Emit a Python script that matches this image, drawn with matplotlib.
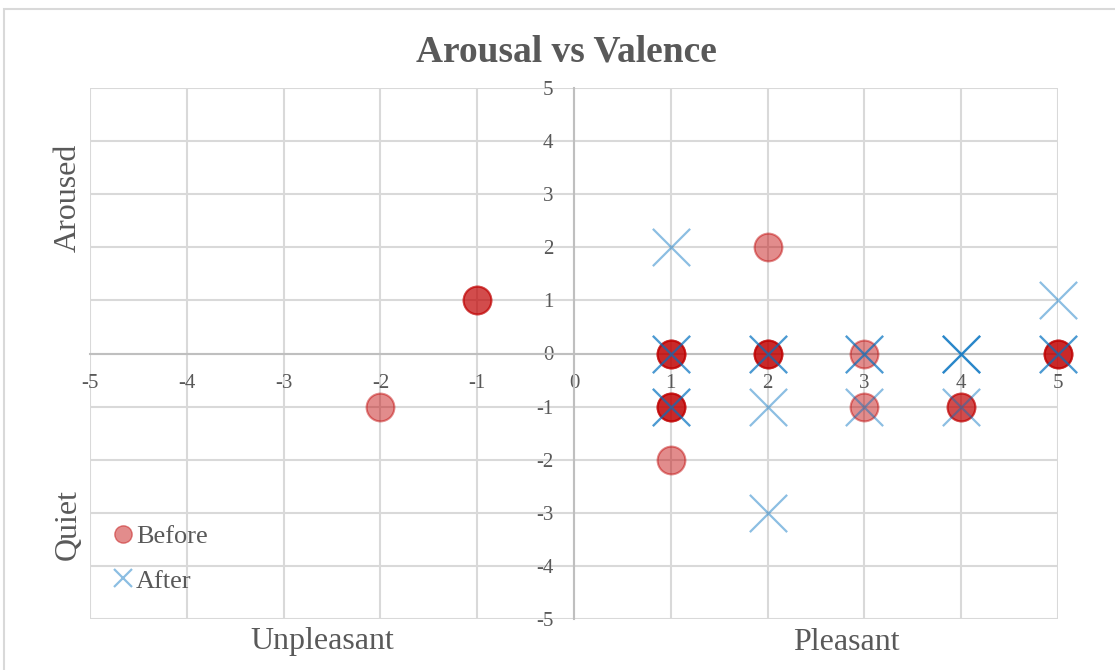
import matplotlib.pyplot as plt
from matplotlib.lines import Line2D
from matplotlib.patches import Rectangle

# valence (x) / arousal (y) ratings, repeated points = several people
before_x = [-2, -1, -1, 1, 1, 1, 1, 1, 1, 1, 2, 2, 2, 2, 3, 3, 4, 4, 5, 5, 5]
before_y = [-1, 1, 1, 0, 0, 0, -1, -1, -1, -2, 2, 0, 0, 0, 0, -1, -1, -1, 0, 0, 0]

after_x = [1, 1, 1, 1, 1, 2, 2, 2, 2, 3, 3, 3, 4, 4, 4, 4, 5, 5, 5]
after_y = [2, 0, 0, -1, -1, 0, 0, -1, -3, 0, 0, -1, 0, 0, 0, -1, 1, 0, 0]

ticks = list(range(-5, 6))

RED = "#C00000"
BLUE = "#0070C0"
TXT = "#595959"

plt.rcParams["font.family"] = ["Liberation Serif", "DejaVu Serif"]
plt.rcParams["axes.unicode_minus"] = False

fig = plt.figure(figsize=(11.15, 6.7), dpi=100)
fig.patches.append(Rectangle((4 / 1115, -0.1), 1.2, 1 - 9 / 670 + 0.1,
                             transform=fig.transFigure, fill=False,
                             edgecolor="#D9D9D9", linewidth=1.5))

ax = fig.add_axes([90 / 1115, 1 - 619 / 670, (1058 - 90) / 1115, (619 - 88) / 670])

ax.scatter(before_x, before_y, s=400, marker="o", color=RED, alpha=0.45,
           linewidths=1.5, zorder=3, clip_on=False)
ax.scatter(after_x, after_y, s=720, marker="x", color=BLUE, alpha=0.45,
           linewidths=1.6, zorder=4, clip_on=False)

ax.set_xlim(-5, 5)
ax.set_ylim(-5, 5)
ax.set_xticks(ticks)
ax.set_yticks(ticks)
ax.grid(True, color="#D9D9D9", linewidth=1.5, zorder=0)
ax.set_axisbelow(True)

for side in ["top", "right"]:
    ax.spines[side].set_visible(False)
ax.spines["left"].set_position(("data", 0))
ax.spines["bottom"].set_position(("data", 0))
ax.spines["left"].set_color("#BFBFBF")
ax.spines["bottom"].set_color("#BFBFBF")
ax.spines["left"].set_linewidth(1.5)
ax.spines["bottom"].set_linewidth(1.5)
ax.tick_params(axis="x", length=0, pad=15, labelsize=15, labelcolor=TXT)
ax.tick_params(axis="y", length=0, pad=15, labelsize=15, labelcolor=TXT)

fig.text(566 / 1115, 1 - 52 / 670, "Arousal vs Valence", ha="center", va="center",
         fontsize=27, fontweight="bold", color=TXT)

fig.text(322 / 1115, 1 - 642 / 670, "Unpleasant", ha="center", va="center",
         fontsize=23, color=TXT)
fig.text(846 / 1115, 1 - 642 / 670, "Pleasant", ha="center", va="center",
         fontsize=23, color=TXT)
fig.text(68 / 1115, 1 - 198 / 670, "Aroused", ha="center", va="center",
         fontsize=23, color=TXT, rotation=90)
fig.text(68 / 1115, 1 - 525 / 670, "Quiet", ha="center", va="center",
         fontsize=23, color=TXT, rotation=90)

handles = [
    Line2D([], [], ls="", marker="o", markersize=12.5, color=RED, alpha=0.45),
    Line2D([], [], ls="", marker="x", markersize=12.5, markeredgewidth=1.6,
           color=BLUE, alpha=0.45),
]
leg = ax.legend(handles, ["Before", "After"], loc="upper left",
                bbox_to_anchor=(22 / 968, (619 - 525) / 531), frameon=False,
                fontsize=19, handlelength=0.8, handletextpad=0.1,
                labelspacing=0.78, borderpad=0, borderaxespad=0)
for t in leg.get_texts():
    t.set_color(TXT)

fig.savefig("out.png", dpi=100)
